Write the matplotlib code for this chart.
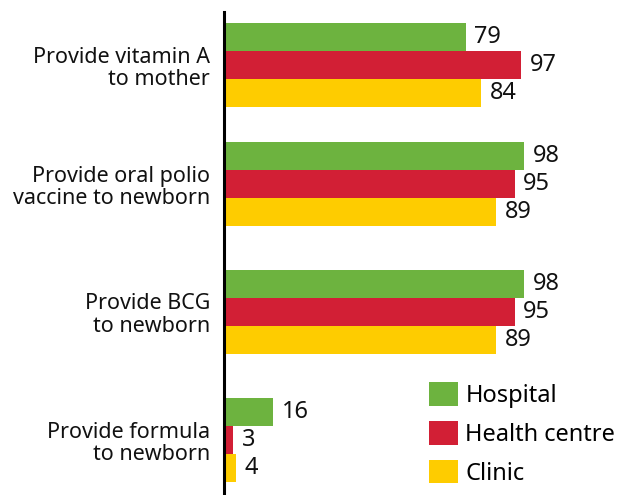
import matplotlib
matplotlib.use("Agg")
import matplotlib.pyplot as plt
import numpy as np

categories = ["Provide vitamin A\nto mother", "Provide oral polio\nvaccine to newborn",
              "Provide BCG\nto newborn", "Provide formula\nto newborn"]
series_names = ["Hospital", "Health centre", "Clinic"]
hospital = [79, 98, 98, 16]
health_centre = [97, 95, 95, 3]
clinic = [84, 89, 89, 4]
colors = ["#6DB33F", "#D21F35", "#FECC00"]

plt.rcParams['font.family'] = ['Noto Sans', 'DejaVu Sans']

fig = plt.figure(figsize=(6.31, 4.95), dpi=100)
ax = fig.add_axes([224/631, 0, 1 - 224/631, 1 - 12/495])

# group centre positions (layout)
ypos = np.array([0.068, 1.0, 2.0, 3.005])
h = 0.219
data = [hospital, health_centre, clinic]
handles = []
for i, (vals, c, name) in enumerate(zip(data, colors, series_names)):
    pos = ypos + (i - 1) * h
    b = ax.barh(pos, vals, height=h, color=c, label=name)
    handles.append(b)
    for p, v in zip(pos, vals):
        ax.text(v + 2.8, p, str(v), va='center', ha='left', fontsize=17, color='#111111')

ax.set_ylim(3.433, -0.349)
ax.set_xlim(0, 133)
for s in ['top', 'right', 'bottom']:
    ax.spines[s].set_visible(False)
ax.spines['left'].set_linewidth(2.2)
ax.spines['left'].set_color('black')
ax.set_xticks([])
ax.set_yticks(ypos)
ax.set_yticklabels(categories, fontsize=15.5, color='#111111', linespacing=1.07)
ax.tick_params(axis='y', length=0, pad=10)

leg = fig.legend(handles=handles, labels=series_names, loc='upper left',
                 bbox_to_anchor=(420/631, 1 - 373/495), frameon=False,
                 fontsize=17, handlelength=1.2, handleheight=1.15,
                 labelspacing=0.55, handletextpad=0.32, borderaxespad=0)

fig.savefig("out.png", dpi=100)
